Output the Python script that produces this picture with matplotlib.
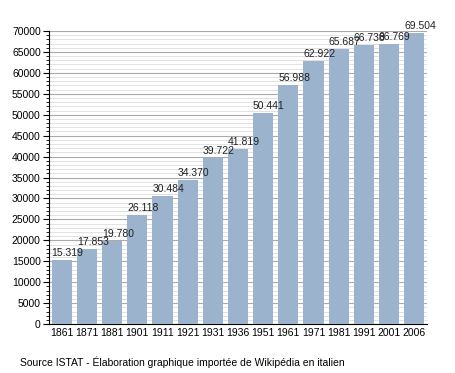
import matplotlib.pyplot as plt
from matplotlib.ticker import MultipleLocator

plt.rcParams["font.family"] = ["Liberation Sans", "DejaVu Sans"]

years = ["1861", "1871", "1881", "1901", "1911", "1921", "1931", "1936",
         "1951", "1961", "1971", "1981", "1991", "2001", "2006"]
population = [15319, 17853, 19780, 26118, 30484, 34370, 39722, 41819,
              50441, 56988, 62922, 65687, 66738, 66769, 69504]
value_labels = ["15.319", "17.853", "19.780", "26.118", "30.484", "34.370",
                "39.722", "41.819", "50.441", "56.988", "62.922", "65.687",
                "66.738", "66.769", "69.504"]

fig = plt.figure(figsize=(4.55, 3.73), dpi=100)
ax = fig.add_axes([0.108, 0.131, 0.830, 0.786])

x = list(range(len(years)))
bars = ax.bar(x, population, width=0.8, color="#9bb3cd", zorder=3)

for rect, lab in zip(bars, value_labels):
    ax.text(rect.get_x(), rect.get_height() + 500, lab, ha="left", va="bottom",
            fontsize=7.5, color="#222222", zorder=4)

ax.set_xlim(-0.5, len(years) - 0.5)
ax.set_ylim(0, 70000)
ax.set_xticks(x)
ax.set_xticklabels(years, fontsize=7.5)
ax.tick_params(axis="x", length=0, pad=3)
ax.yaxis.set_major_locator(MultipleLocator(5000))
ax.yaxis.set_minor_locator(MultipleLocator(1000))
ax.tick_params(axis="y", which="major", length=4, labelsize=7.5, pad=2)
ax.tick_params(axis="y", which="minor", length=2)
ax.grid(axis="y", which="major", color="#aaaaaa", linewidth=0.8, zorder=0)
ax.grid(axis="y", which="minor", color="#dddddd", linewidth=0.6, zorder=0)

for side in ["top", "right"]:
    ax.spines[side].set_visible(False)

fig.text(0.044, 0.03, "Source ISTAT - Élaboration graphique importée de Wikipédia en italien",
         fontsize=7.5, ha="left", va="center")

fig.savefig("out.png", dpi=100)
